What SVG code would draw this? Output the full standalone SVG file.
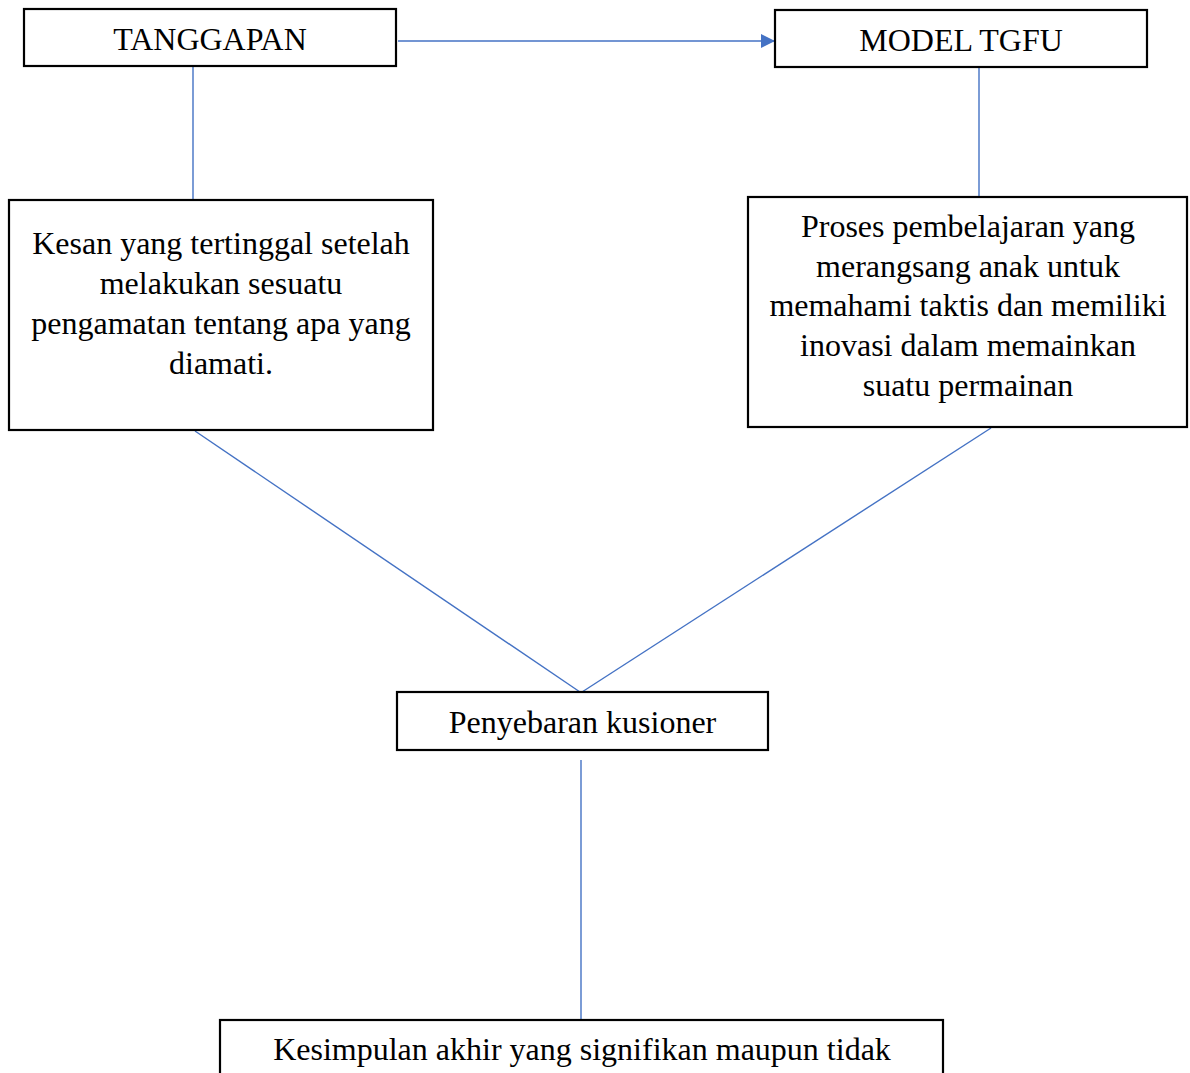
<svg xmlns="http://www.w3.org/2000/svg" width="1190" height="1073" viewBox="0 0 1190 1073">
<style>
.box{fill:#fff;stroke:#000;stroke-width:2.2}
.t{font-family:"Liberation Serif","Times New Roman",serif;font-size:32px;fill:#000;text-anchor:middle}
.c{stroke:#4472C4;stroke-width:1.4;fill:none}
</style>
<defs>
<marker id="ah" markerUnits="userSpaceOnUse" markerWidth="16" markerHeight="16" refX="15" refY="8" orient="auto">
<path d="M1,1 L15,8 L1,15 Z" fill="#4472C4"/>
</marker>
</defs>
<rect width="1190" height="1073" fill="#fff"/>
<g id="connectors">
<line class="c" x1="398" y1="41" x2="775" y2="41" marker-end="url(#ah)"/>
<line class="c" x1="193" y1="67" x2="193" y2="199"/>
<line class="c" x1="979" y1="68" x2="979" y2="196"/>
<line class="c" x1="195" y1="431" x2="580" y2="692"/>
<line class="c" x1="991" y1="428" x2="582" y2="692"/>
<line class="c" x1="581" y1="760" x2="581" y2="1020"/>
</g>
<g id="tanggapan">
<rect class="box" x="24" y="9" width="372" height="57"/>
<text class="t" x="210" y="50">TANGGAPAN</text>
</g>
<g id="model-tgfu">
<rect class="box" x="775" y="10" width="372" height="57"/>
<text class="t" x="961" y="51">MODEL TGFU</text>
</g>
<g id="kesan">
<rect class="box" x="9" y="200" width="424" height="230"/>
<text class="t" x="221" y="254">Kesan yang tertinggal setelah</text>
<text class="t" x="221" y="294">melakukan sesuatu</text>
<text class="t" x="221" y="334">pengamatan tentang apa yang</text>
<text class="t" x="221" y="374">diamati.</text>
</g>
<g id="proses">
<rect class="box" x="748" y="197" width="439" height="230"/>
<text class="t" x="968" y="237">Proses pembelajaran yang</text>
<text class="t" x="968" y="277">merangsang anak untuk</text>
<text class="t" x="968" y="316">memahami taktis dan memiliki</text>
<text class="t" x="968" y="356">inovasi dalam memainkan</text>
<text class="t" x="968" y="396">suatu permainan</text>
</g>
<g id="penyebaran">
<rect class="box" x="397" y="692" width="371" height="58"/>
<text class="t" x="582.5" y="733">Penyebaran kusioner</text>
</g>
<g id="kesimpulan">
<rect class="box" x="220" y="1020" width="723" height="70"/>
<text class="t" x="582" y="1060">Kesimpulan akhir yang signifikan maupun tidak</text>
</g>
</svg>
